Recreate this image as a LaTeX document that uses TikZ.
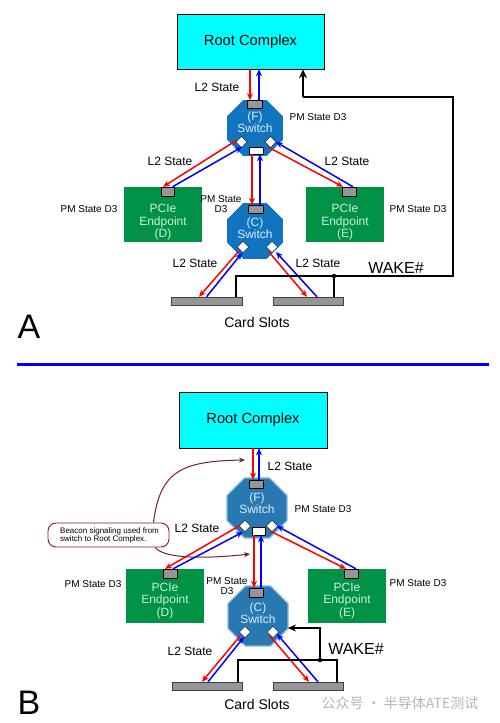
\documentclass[tikz,border=0pt]{standalone}
\usepackage{fontspec}
\setmainfont{Liberation Sans}
\newfontfamily\cjkfont{Noto Sans CJK SC}
\usetikzlibrary{shapes.geometric,arrows.meta,calc}
\definecolor{rcfill}{RGB}{0,255,255}
\definecolor{swA}{RGB}{16,116,190}
\definecolor{swB}{RGB}{40,120,178}
\definecolor{swBedge}{RGB}{140,185,225}
\definecolor{epgreen}{RGB}{0,146,69}
\definecolor{eptext}{RGB}{205,240,215}
\definecolor{swtext}{RGB}{220,235,250}
\definecolor{portgray}{RGB}{150,150,150}
\definecolor{maroonc}{RGB}{120,30,30}
\definecolor{wmgray}{RGB}{180,180,180}
\begin{document}
\begin{tikzpicture}[x=1pt,y=-1pt,
  rcbox/.style={draw=black, fill=rcfill, minimum width=147pt, minimum height=55pt, inner sep=0pt, font=\fontsize{14.7}{16}\selectfont},
  epbox/.style={fill=epgreen, minimum width=78pt, minimum height=55pt, inner sep=0pt},
  eptxt/.style={text=eptext, align=center, inner sep=0pt, font=\fontsize{12}{12.5}\selectfont},
  octA/.style={regular polygon, regular polygon sides=8, minimum size=60.6pt, inner sep=0pt, fill=swA},
  octB/.style={regular polygon, regular polygon sides=8, minimum size=65pt, inner sep=0pt, fill=swB, draw=swBedge, line width=1.2pt},
  swtxt/.style={text=swtext, align=center, inner sep=0pt, font=\fontsize{12}{12}\selectfont},
  port/.style={draw=black, fill=portgray, minimum width=15pt, minimum height=8pt, inner sep=0pt},
  dport/.style={draw=black, fill=white, minimum size=8pt, inner sep=0pt, rotate=45},
  brect/.style={draw=black, fill=white, minimum width=14pt, minimum height=7pt, inner sep=0pt},
  slotbox/.style={draw=black!75, fill=portgray, minimum width=71pt, minimum height=8pt, inner sep=0pt},
  sigR/.style={draw=red, line width=1.5pt, -{Stealth[length=7pt,width=6pt]}},
  sigB/.style={draw=blue, line width=1.5pt, -{Stealth[length=7pt,width=6pt]}},
  wire/.style={draw=black, line width=1.8pt},
  lbl/.style={inner sep=0pt, font=\fontsize{12}{12}\selectfont},
  pm/.style={inner sep=0pt, align=center, font=\fontsize{10}{10}\selectfont},
  big/.style={inner sep=0pt, font=\fontsize{34}{34}\selectfont},
  dot/.style={circle, fill=black, inner sep=0pt, minimum size=4.5pt}
]
\useasboundingbox (0,0) rectangle (499,723);

%%%%%%%%%%%%%%%% PART A %%%%%%%%%%%%%%%%
\node[rcbox] (RCa) at (250.5,41.5) {Root Complex};
\node[octA] (Fa) at (255,128) {};
\node[swtxt] (Fatx) at (255,122.5) {(F)\\Switch};
\node[port] (FaT) at (255,104.5) {};
\node[dport] (FaL) at (241.5,142) {};
\node[dport] (FaR) at (270.5,142) {};
\node[brect] (FaB) at (256,150.5) {};

\node[epbox] (Da) at (163,214.5) {};
\node[port, minimum width=13pt, minimum height=9pt] (DaT) at (167.5,191.5) {};
\node[eptxt] (Datx) at (163,222.5) {PCIe\\Endpoint\\(D)};
\node[epbox] (Ea) at (345,214.5) {};
\node[port, minimum width=14pt, minimum height=9pt] (EaT) at (349,191.5) {};
\node[eptxt] (Eatx) at (345,222.5) {PCIe\\Endpoint\\(E)};

\node[octA] (Ca) at (255,231) {};
\node[swtxt] (Catx) at (255,228) {(C)\\Switch};
\node[port] (CaT) at (256,209) {};
\node[dport] (CaL) at (243,247) {};
\node[dport] (CaR) at (272,247) {};

\node[slotbox] (SLa) at (206.5,301) {};
\node[slotbox, minimum width=70pt] (SRa) at (308,301) {};

\node[lbl] (la1) at (217,87) {L2 State};
\node[lbl] (la2) at (170,161) {L2 State};
\node[lbl] (la3) at (347,161) {L2 State};
\node[lbl] (la4) at (195,263) {L2 State};
\node[lbl] (la5) at (318,263) {L2 State};
\node[pm] (pa1) at (318,117) {PM State D3};
\node[pm] (pa2) at (89,209) {PM State D3};
\node[pm] (pa3) at (418,209) {PM State D3};
\node[pm] (pa4) at (221,204) {PM State\\D3};
\node[inner sep=0pt, font=\fontsize{14}{14}\selectfont] (csa) at (257,322) {Card Slots};
\node[inner sep=0pt, font=\fontsize{16}{16}\selectfont] (wka) at (396,268) {WAKE\#};
\node[big] (labA) at (29,327) {A};

% signals A
\coordinate (ar1) at ($(FaT.north)+(-5,0)$);
\coordinate (ab1) at ($(FaT.north)+(4,0)$);
\draw[sigR] (ar1 |- RCa.south) -- (ar1);
\draw[sigB] (ab1) -- (ab1 |- RCa.south);
\coordinate (ar2) at ($(CaT.north)+(-4,0)$);
\coordinate (ab2) at ($(CaT.north)+(4,0)$);
\draw[sigR] (ar2 |- FaB.south) -- (ar2);
\draw[sigB] (ab2) -- (ab2 |- FaB.south);
\draw[sigR] ($(FaL)+(-4.5,-2)$) -- ($(DaT.north)+(-4.5,0)$);
\draw[sigB] ($(DaT.north)+(5,0)$) -- ($(FaL)+(0.5,5)$);
\draw[sigR] ($(FaR)+(-2.5,5)$) -- ($(EaT.north)+(-6,0)$);
\draw[sigB] ($(EaT.north)+(4,0)$) -- ($(FaR)+(5.5,0)$);
\draw[sigR] ($(CaL)+(-4,4)$) -- ($(SLa.north)+(-7.5,0)$);
\draw[sigB] ($(SLa.north)+(0,0)$) -- ($(CaL)+(-1,6)$);
\draw[sigR] ($(CaR)+(-3,5)$) -- ($(SRa.north)+(-1,0)$);
\draw[sigB] ($(SRa.north)+(9,0)$) -- ($(CaR)+(4,5)$);

% WAKE# A
\coordinate (wa1) at (236,276);
\node[dot] (ja) at (334,276) {};
\coordinate (wa2) at (453,276);
\coordinate (wa3) at (453,97);
\coordinate (wa4) at (303,97);
\draw[wire] (SLa.north -| wa1) -- (wa1) -- (wa2) -- (wa3) -- (wa4);
\draw[wire, -{Stealth[length=9pt,width=8pt]}] (wa4) -- (wa4 |- RCa.south);
\draw[wire] (ja.center) -- (ja.center |- SRa.north);

% separator
\coordinate (sep1) at (17,364);
\coordinate (sep2) at (489,364);
\draw[blue, line width=3pt] (sep1) -- (sep2);

%%%%%%%%%%%%%%%% PART B %%%%%%%%%%%%%%%%
\node[rcbox, minimum width=148pt, minimum height=56pt] (RCb) at (253,420) {Root Complex};
\node[octB] (Fb) at (257,508) {};
\node[swtxt] (Fbtx) at (257,503) {(F)\\Switch};
\node[port, minimum width=14pt] (FbT) at (256,484) {};
\node[dport] (FbL) at (245,526) {};
\node[dport] (FbR) at (272,526) {};
\node[brect, minimum width=13pt, minimum height=8pt] (FbB) at (258.5,531) {};

\node[epbox, minimum height=54pt] (Db) at (165,596) {};
\node[port, minimum width=14pt, minimum height=9pt] (DbT) at (170,573.5) {};
\node[eptxt] (Dbtx) at (165,601) {PCIe\\Endpoint\\(D)};
\node[epbox, minimum height=54pt] (Eb) at (347,596) {};
\node[port, minimum width=14pt, minimum height=9pt] (EbT) at (351,573.5) {};
\node[eptxt] (Ebtx) at (347,601) {PCIe\\Endpoint\\(E)};

\node[octB] (Cb) at (258,616) {};
\node[swtxt] (Cbtx) at (258,613) {(C)\\Switch};
\node[port, minimum width=14pt, minimum height=9pt] (CbT) at (256.5,592.5) {};
\node[dport] (CbL) at (245,632) {};
\node[dport] (CbR) at (273,632) {};

\node[slotbox, minimum width=70pt] (SLb) at (207,686) {};
\node[slotbox, minimum width=70pt] (SRb) at (308,686) {};

\node[lbl] (lb1) at (290,466) {L2 State};
\node[lbl] (lb2) at (197,528) {L2 State};
\node[lbl] (lb3) at (190,651) {L2 State};
\node[pm] (pb1) at (323,509) {PM State D3};
\node[pm] (pb2) at (93,584) {PM State D3};
\node[pm] (pb3) at (418,583) {PM State D3};
\node[pm] (pb4) at (227,586.5) {PM State\\D3};
\node[inner sep=0pt, font=\fontsize{14}{14}\selectfont] (csb) at (257,704) {Card Slots};
\node[inner sep=0pt, font=\fontsize{16}{16}\selectfont] (wkb) at (356,649) {WAKE\#};
\node[big] (labB) at (29,703) {B};

\node[draw=maroonc, line width=0.9pt, rounded corners=8pt, minimum width=121pt, minimum height=24pt, inner sep=0pt] (CO) at (108.5,535) {};
\node[inner sep=0pt, align=left, anchor=west, font=\fontsize{8}{8}\selectfont] (COtx) at (60,535) {Beacon signaling used from\\switch to Root Complex.};
\coordinate (bz1) at (245,460);
\coordinate (bz2) at (250,554);
\draw[maroonc, line width=1pt, -{Stealth[length=6pt,width=5pt]}] ($(CO.north east)+(-16,0)$) .. controls (160,472) and (180,461) .. (bz1);
\draw[maroonc, line width=1pt, -{Stealth[length=6pt,width=5pt]}] ($(CO.south east)+(-14,0)$) .. controls (162,557) and (195,560) .. (bz2);

% signals B
\coordinate (br1) at ($(FbT.north)+(-3,0)$);
\coordinate (bb1) at ($(FbT.north)+(3,0)$);
\draw[sigR] (br1 |- RCb.south) -- (br1);
\draw[sigB] (bb1) -- (bb1 |- RCb.south);
\coordinate (br2) at ($(CbT.north)+(-2.5,0)$);
\coordinate (bb2) at ($(CbT.north)+(4.5,0)$);
\draw[sigR] (br2 |- FbB.south) -- (br2);
\draw[sigB] (bb2) -- (bb2 |- FbB.south);
\draw[sigR] ($(FbL)+(-6,0)$) -- ($(DbT.north)+(-5,0)$);
\draw[sigB] ($(DbT.north)+(3,0)$) -- ($(FbL)+(-2,6)$);
\draw[sigR] ($(FbR)+(-2,5)$) -- ($(EbT.north)+(-5,0)$);
\draw[sigB] ($(EbT.north)+(5,0)$) -- ($(FbR)+(5,0)$);
\draw[sigR] ($(CbL)+(-5,4)$) -- ($(SLb.north)+(-5,0)$);
\draw[sigB] ($(SLb.north)+(1,0)$) -- ($(CbL)+(-1,5)$);
\draw[sigR] ($(CbR)+(-3,4)$) -- ($(SRb.north)+(1,0)$);
\draw[sigB] ($(SRb.north)+(10,0)$) -- ($(CbR)+(4,2)$);

% WAKE# B
\coordinate (wb1) at (238,660);
\coordinate (wb2) at (337,660);
\node[dot] (jb) at (320,660) {};
\coordinate (wb3) at (320,628);
\coordinate (wb4) at (288,628);
\draw[wire] (SLb.north -| wb1) -- (wb1) -- (wb2) -- (wb2 |- SRb.north);
\draw[wire, -{Stealth[length=8pt,width=7pt]}] (jb.center) -- (wb3) -- (wb4);

% watermark
\node[inner sep=0pt, text=wmgray, font=\cjkfont\fontsize{14}{14}\selectfont] (wm) at (400,703) {公众号 · 半导体ATE测试};
\end{tikzpicture}
\end{document}
